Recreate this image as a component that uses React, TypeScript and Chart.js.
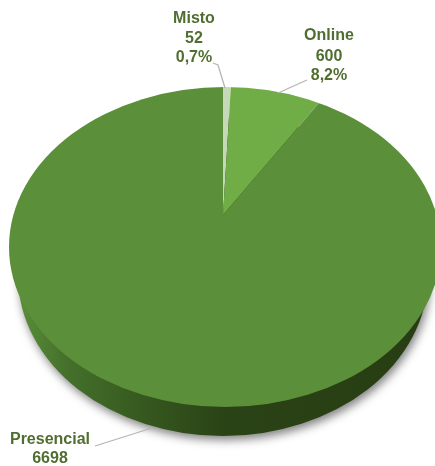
import React, { useEffect, useRef } from "react";
import { Chart, registerables } from "chart.js";

Chart.register(...registerables);

const categories = ["Misto", "Online", "Presencial"];
const values = [52, 600, 6698];
const percentLabels = ["0,7%", "8,2%", ""];
const sliceColors = ["#c5d9b8", "#70ad47", "#5c8f3a"];

const FONT = 'bold 16px "Liberation Sans", Arial, sans-serif';
const TEXT = "#4f6e30";

const pie3d = {
  id: "pie3d",
  beforeDatasetsDraw(chart: any) {
    const ctx = chart.ctx as CanvasRenderingContext2D;
    const arc = chart.getDatasetMeta(0).data[0];
    const rx = 216, ry = 160, ex = 225, ey = 247;
    // side wall
    ctx.save();
    ctx.shadowColor = "rgba(0,0,0,0.5)";
    ctx.shadowBlur = 10;
    ctx.shadowOffsetX = 2;
    ctx.shadowOffsetY = 4;
    const g = ctx.createLinearGradient(18, 0, 430, 0);
    g.addColorStop(0, "#5b8e39");
    g.addColorStop(0.12, "#44702b");
    g.addColorStop(0.3, "#36591f");
    g.addColorStop(0.5, "#2a4316");
    g.addColorStop(1, "#273d13");
    ctx.fillStyle = g;
    ctx.beginPath();
    ctx.ellipse(223, 276, 205, 160, 0, 0, Math.PI * 2);
    ctx.fill();
    ctx.restore();
    // top face: slices fan out from the apex and are cut by the ellipse
    ctx.save();
    ctx.beginPath();
    ctx.ellipse(ex, ey, rx, ry, 0, 0, Math.PI * 2);
    ctx.clip();
    ctx.translate(223, 215);
    ctx.scale(2.2, 1.6);
    ctx.translate(-arc.x, -arc.y);
  },
  afterDatasetsDraw(chart: any) {
    const ctx = chart.ctx as CanvasRenderingContext2D;
    ctx.restore();
    ctx.save();
    ctx.strokeStyle = "#b5b5b5";
    ctx.lineWidth = 1.3;
    const leaders = [
      [[213, 63], [218, 65], [225, 88]],
      [[307, 80], [278, 93]],
      [[95, 446], [152, 428]],
    ];
    leaders.forEach((pts) => {
      ctx.beginPath();
      pts.forEach((p, i) => (i ? ctx.lineTo(p[0], p[1]) : ctx.moveTo(p[0], p[1])));
      ctx.stroke();
    });
    ctx.font = FONT;
    ctx.fillStyle = TEXT;
    ctx.textAlign = "center";
    ctx.textBaseline = "middle";
    const anchors = [
      { x: 194, ys: [19, 39, 58] },
      { x: 329, ys: [36, 57, 76] },
      { x: 50, ys: [440, 459] },
    ];
    categories.forEach((name, i) => {
      const lines = [name, String(values[i]), percentLabels[i]].filter(Boolean);
      lines.forEach((t, j) => ctx.fillText(t, anchors[i].x, anchors[i].ys[j]));
    });
    ctx.restore();
  },
};

export default function App() {
  const ref = useRef<HTMLCanvasElement>(null);
  useEffect(() => {
    const chart = new Chart(ref.current!, {
      type: "pie",
      data: {
        labels: categories,
        datasets: [
          { data: values, backgroundColor: sliceColors, borderWidth: 0, clip: false } as any,
        ],
      },
      options: {
        responsive: false,
        animation: false,
        plugins: { legend: { display: false }, tooltip: { enabled: false } },
      },
      plugins: [pie3d as any],
    });
    return () => chart.destroy();
  }, []);
  return (
    <canvas
      ref={ref}
      width={435}
      height={466}
      style={{ position: "absolute", left: 0, top: 0, width: 435, height: 466, filter: "blur(0.5px)" }}
    />
  );
}
